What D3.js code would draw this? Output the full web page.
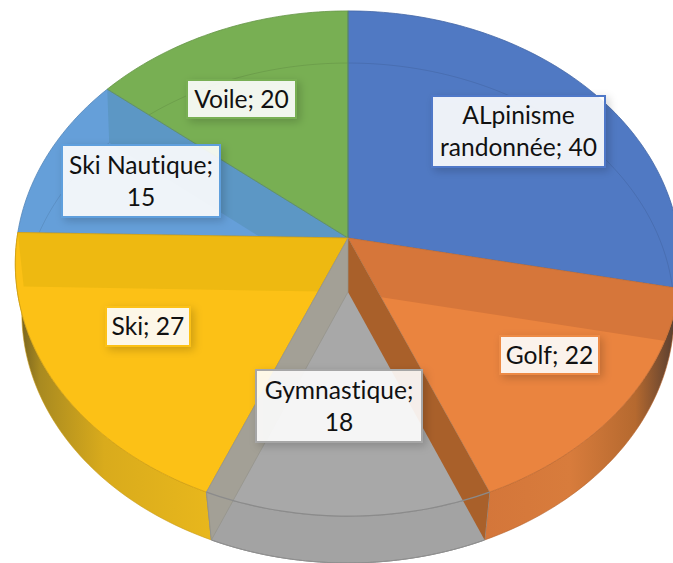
<!DOCTYPE html>
<html><head><meta charset="utf-8">
<script src="https://cdn.jsdelivr.net/npm/d3@7"></script>
<style>html,body{margin:0;padding:0;background:#fff}svg{display:block}text{font-variant-ligatures:none;font-feature-settings:"liga" 0,"clig" 0}</style>
</head><body><div id="chart"></div>
<script>
const categories = ["ALpinisme randonnée","Golf","Gymnastique","Ski","Ski Nautique","Voile"];
const values = [40,22,18,27,15,20];
const colors = ["#5079c3","#ea843f","#a8a8a8","#fcc116","#659fd9","#78af53"];
const labelLines = [["ALpinisme","randonnée; 40"],["Golf; 22"],["Gymnastique;","18"],["Ski; 27"],["Ski Nautique;","15"],["Voile; 20"]];
// layout constants
const labelBoxes = [[432,96,173,71],[500,336,99,38],[256,370,166,72],[106,307,84,39],[62,145,158,72],[187,80,109,38]];
const labelBorders = ["#4f78c8","#ed8a45","#a6a6a6","#fcc116","#5f9fdd","#78af53"];
const W=673,H=563;
const topC={cx:348,cy:238,R:331,S:250,k:0.101};
const botC={cx:348,cy:292,R:325,S:248.2,k:0.084};
const proj=(c,a)=>{const u=Math.sin(a),v=Math.cos(a),d=1+c.k*v;return [c.cx+c.R*u/d,c.cy-c.S*v/d];};
const arcPts=(c,a0,a1)=>{const n=Math.max(2,Math.ceil(Math.abs(a1-a0)/0.02));return d3.range(n+1).map(i=>proj(c,a0+(a1-a0)*i/n));};
const line=d3.line();
const closed=p=>line(p)+"Z";

const pie=d3.pie().sort(null).value(d=>d);
const arcs=pie(values);
const svg=d3.select("#chart").append("svg").attr("width",W).attr("height",H).attr("viewBox",`0 0 ${W} ${H}`);
const defs=svg.append("defs");

const grad=(id,x1,x2,stops)=>{const g=defs.append("linearGradient").attr("id",id).attr("gradientUnits","userSpaceOnUse").attr("x1",x1).attr("x2",x2).attr("y1",0).attr("y2",0);
  stops.forEach(s=>g.append("stop").attr("offset",s[0]).attr("stop-color",s[1]));};
grad("wallOrange",485,673,[[0,"#d4763a"],[0.45,"#d87c3c"],[0.8,"#b5692f"],[1,"#5c4030"]]);
grad("wallYellow",17,211,[[0,"#6f5c20"],[0.12,"#a98a20"],[0.45,"#d9ab1c"],[1,"#e8b71c"]]);
const f=defs.append("filter").attr("id","sh").attr("x","-20%").attr("y","-20%").attr("width","150%").attr("height","150%");
f.append("feDropShadow").attr("dx",3).attr("dy",3).attr("stdDeviation",4).attr("flood-color","#000").attr("flood-opacity",0.2);

const slicePath=a=>closed([[topC.cx,topC.cy],...arcPts(topC,a.startAngle,a.endAngle)]);
const outerWall=a=>closed([...arcPts(topC,a.startAngle,a.endAngle),...arcPts(botC,a.endAngle,a.startAngle)]);
const edge=(c,lo)=>d3.color(c).darker(lo).formatHex();
const wallQuad=ang=>closed([[topC.cx,topC.cy],proj(topC,ang),proj(botC,ang),[botC.cx,botC.cy]]);

const [blue,orange,grey,yellow,skiN,green]=arcs;

// outer side walls
svg.append("path").attr("d",outerWall(orange)).attr("fill","url(#wallOrange)").attr("stroke","#b5622a").attr("stroke-width",0.6);
svg.append("path").attr("d",outerWall(yellow)).attr("fill","url(#wallYellow)").attr("stroke","#c79a18").attr("stroke-width",0.6);

// back slices
[blue,skiN,green].forEach(a=>{
  svg.append("path").attr("d",slicePath(a)).attr("fill",colors[a.index]);
});
// back rim of the base seen through the top
svg.append("path").attr("d",line(arcPts(botC,-1.45,1.62))).attr("fill","none").attr("stroke","#000").attr("stroke-opacity",0.09).attr("stroke-width",1);
// ski nautique inner wall
svg.append("clipPath").attr("id","clipSki").append("path").attr("d",slicePath(skiN));
svg.append("path").attr("d",wallQuad(skiN.endAngle)).attr("fill","#5c97c5").attr("clip-path","url(#clipSki)");
[blue,skiN,green].forEach(a=>{
  svg.append("path").attr("d",slicePath(a)).attr("fill","none").attr("stroke",edge(colors[a.index],0.45)).attr("stroke-width",0.8);
});

// front slices with inner bands
[[orange,"#d6763a",blue.endAngle],[yellow,"#eeb911",yellow.endAngle]].forEach(([a,band,ang],i)=>{
  svg.append("path").attr("d",slicePath(a)).attr("fill",colors[a.index]);
  const id="clipF"+i;
  svg.append("clipPath").attr("id",id).append("path").attr("d",slicePath(a));
  svg.append("path").attr("d",wallQuad(ang)).attr("fill",band).attr("clip-path",`url(#${id})`);
  svg.append("path").attr("d",slicePath(a)).attr("fill","none").attr("stroke",edge(colors[a.index],0.5)).attr("stroke-width",0.8);
});

// grey slice: top, outer wall, inner walls
svg.append("path").attr("d",outerWall(grey)).attr("fill","#a3a3a3").attr("stroke","#8f8f8f").attr("stroke-width",1);
svg.append("path").attr("d",slicePath(grey)).attr("fill",colors[2]);
svg.append("path").attr("d",wallQuad(grey.startAngle)).attr("fill","#a9602a");
svg.append("path").attr("d",wallQuad(grey.endAngle)).attr("fill","#a3a096").attr("stroke","#94928a").attr("stroke-width",0.7);
svg.append("path").attr("d",line(arcPts(topC,grey.startAngle,grey.endAngle))).attr("fill","none").attr("stroke","#8b8b8b").attr("stroke-width",1.2);
svg.append("path").attr("d",line(arcPts(botC,grey.startAngle,grey.endAngle))).attr("fill","none").attr("stroke","#8f8f8f").attr("stroke-width",1);

// data labels
const lab=svg.selectAll("g.lab").data(arcs).enter().append("g").attr("class","lab");
lab.append("rect").attr("x",d=>labelBoxes[d.index][0]).attr("y",d=>labelBoxes[d.index][1])
  .attr("width",d=>labelBoxes[d.index][2]).attr("height",d=>labelBoxes[d.index][3])
  .attr("fill","#fff").attr("fill-opacity",0.89).attr("stroke",d=>labelBorders[d.index]).attr("stroke-width",2)
  .attr("filter","url(#sh)");
lab.each(function(d){
  const b=labelBoxes[d.index],ls=labelLines[d.index],g=d3.select(this);
  const lh=32, y0=b[1]+b[3]/2-(ls.length-1)*lh/2;
  ls.forEach((t,i)=>g.append("text").attr("x",b[0]+b[2]/2).attr("y",y0+i*lh).attr("dy","0.35em")
    .attr("text-anchor","middle").attr("font-family","Lato, sans-serif").attr("font-size",24.6).attr("fill","#111").text(t));
});
</script></body></html>
